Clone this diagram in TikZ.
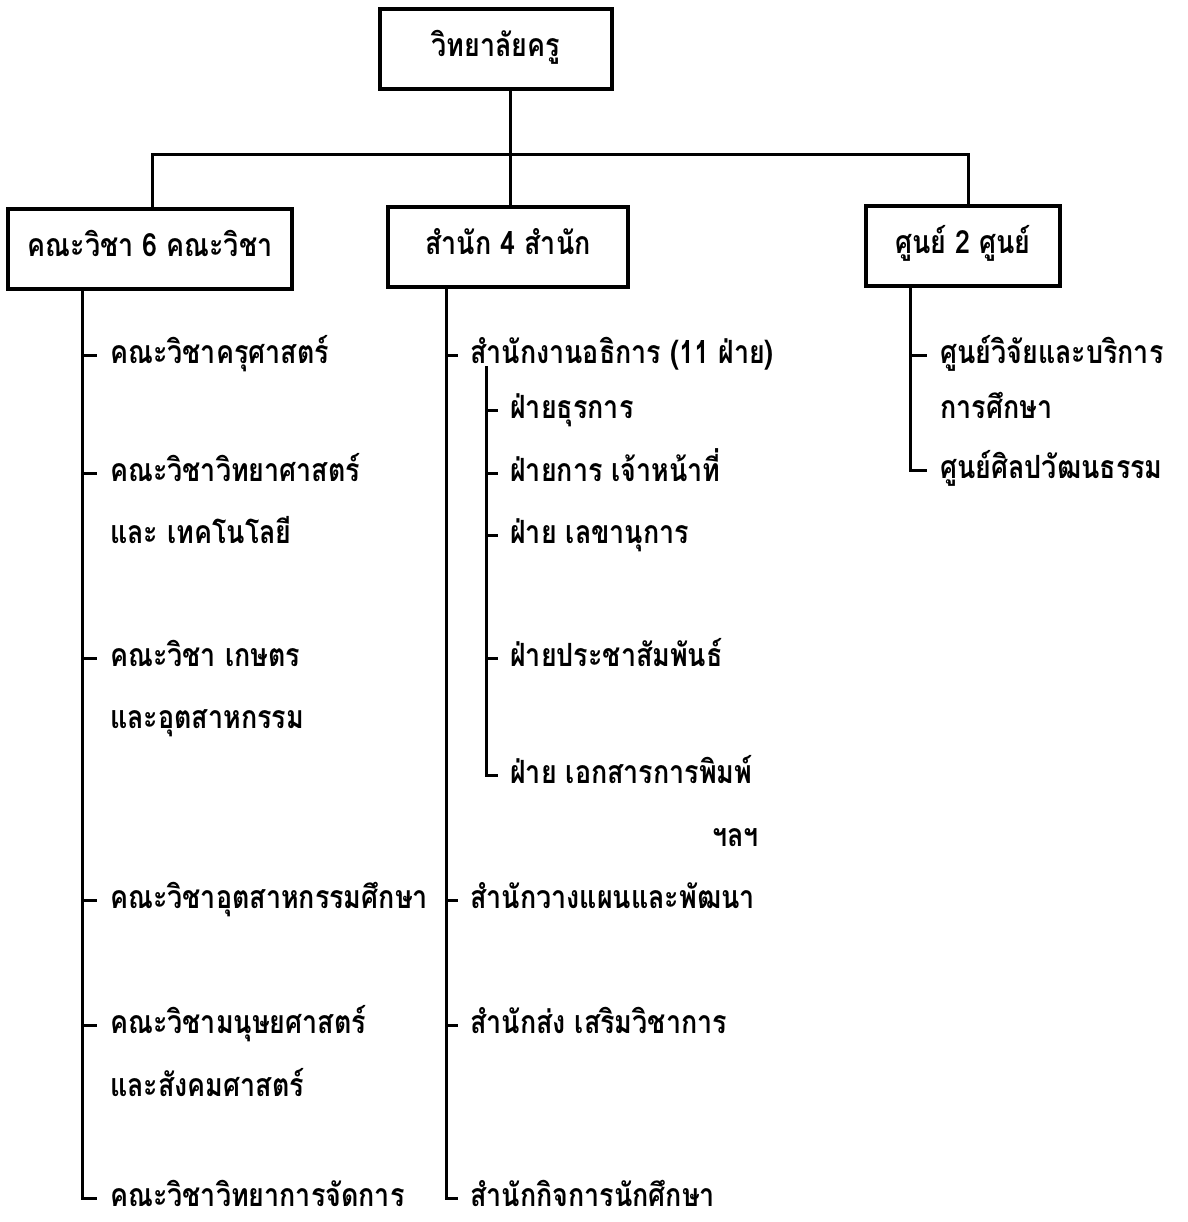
\documentclass[tikz,border=0pt]{standalone}
\usepackage{fontspec}
\newfontfamily\thaifont[Script=Thai,FakeStretch=0.84]{Loma}
\begin{document}
\begin{tikzpicture}[x=1pt,y=-1pt,
  every node/.style={font=\thaifont\bfseries\fontsize{32}{34}\selectfont},
  box/.style={draw,line width=3.2pt,minimum height=80pt,inner sep=0pt,text height=21pt,text depth=5pt},
  item/.style={anchor=west,inner sep=0pt,text height=21pt,text depth=5pt},
  conn/.style={line width=3pt}]
\useasboundingbox[fill=white] (0,0) rectangle (1187,1222);
% boxes
\node[box,minimum width=232pt] (top) at (496,49) {วิทยาลัยครู};
\node[box,minimum width=284pt] (fac) at (150,249) {คณะวิชา 6 คณะวิชา};
\node[box,minimum width=240pt] (off) at (508,247) {สำนัก 4 สำนัก};
\node[box,minimum width=194pt] (cen) at (963,246) {ศูนย์ 2 ศูนย์};
% bus
\coordinate (busL) at (152,155);
\coordinate (busR) at (968,155);
\coordinate (hub) at (510,155);
\draw[conn] (top.south -| hub) -- (off.north -| hub);
\draw[conn] (fac.north -| busL) -- (busL) -- (busR) -- (cen.north -| busR);
% column coordinates
\coordinate (lc) at (82,0);
\coordinate (mc) at (446,0);
\coordinate (sc) at (486,0);
\coordinate (rc) at (910,0);
% left items
\node[item] (L1) at (110,355) {คณะวิชาครุศาสตร์};
\node[item] (L2) at (110,473) {คณะวิชาวิทยาศาสตร์};
\node[item] (L2b) at (110,535) {และ เทคโนโลยี};
\node[item] (L3) at (110,658) {คณะวิชา เกษตร};
\node[item] (L3b) at (110,720) {และอุตสาหกรรม};
\node[item] (L4) at (110,900) {คณะวิชาอุตสาหกรรมศึกษา};
\node[item] (L5) at (110,1025) {คณะวิชามนุษยศาสตร์};
\node[item] (L5b) at (110,1088) {และสังคมศาสตร์};
\node[item] (L6) at (110,1198) {คณะวิชาวิทยาการจัดการ};
\draw[conn] (fac.south -| lc) |- ([xshift=-13pt]L6.west);
\foreach \n in {L1,L2,L3,L4,L5}
  \draw[conn] (\n.west -| lc) -- ([xshift=-13pt]\n.west);
% middle items
\node[item] (M1) at (470,355) {สำนักงานอธิการ (11 ฝ่าย)};
\node[item] (S1) at (510,410) {ฝ่ายธุรการ};
\node[item] (S2) at (510,473) {ฝ่ายการ เจ้าหน้าที่};
\node[item] (S3) at (510,535) {ฝ่าย เลขานุการ};
\node[item] (S4) at (510,658) {ฝ่ายประชาสัมพันธ์};
\node[item] (S5) at (510,775) {ฝ่าย เอกสารการพิมพ์};
\node[item] (etc) at (712,838) {ฯลฯ};
\node[item] (M2) at (470,900) {สำนักวางแผนและพัฒนา};
\node[item] (M3) at (470,1025) {สำนักส่ง เสริมวิชาการ};
\node[item] (M4) at (470,1198) {สำนักกิจการนักศึกษา};
\draw[conn] (off.south -| mc) |- ([xshift=-12pt]M4.west);
\foreach \n in {M1,M2,M3}
  \draw[conn] (\n.west -| mc) -- ([xshift=-12pt]\n.west);
\draw[conn] ([yshift=-11pt]M1.west -| sc) |- ([xshift=-12pt]S5.west);
\foreach \n in {S1,S2,S3,S4}
  \draw[conn] (\n.west -| sc) -- ([xshift=-12pt]\n.west);
% right items
\node[item] (R1) at (940,355) {ศูนย์วิจัยและบริการ};
\node[item] (R1b) at (940,410) {การศึกษา};
\node[item] (R2) at (940,470) {ศูนย์ศิลปวัฒนธรรม};
\draw[conn] (cen.south -| rc) |- ([xshift=-13pt]R2.west);
\draw[conn] (R1.west -| rc) -- ([xshift=-13pt]R1.west);
\end{tikzpicture}
\end{document}
